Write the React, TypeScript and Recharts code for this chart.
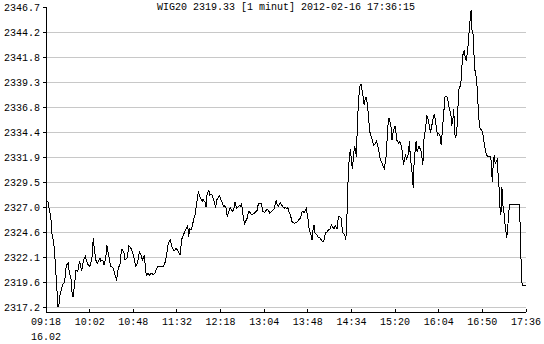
import React from 'react';
import { LineChart, Line, XAxis, YAxis, ReferenceLine } from 'recharts';

const TITLE = 'WIG20 2319.33 [1 minut] 2012-02-16 17:36:15';
const DATE_LABEL = '16.02';

const xTickLabels = ['09:18', '10:02', '10:48', '11:32', '12:18', '13:04', '13:48', '14:34', '15:20', '16:04', '16:50', '17:36'];
const yTickLabels = ['2317.2', '2319.6', '2322.1', '2324.6', '2327.0', '2329.5', '2331.9', '2334.4', '2336.8', '2339.3', '2341.8', '2344.2', '2346.7'];

// session length in minutes (09:18 -> 17:36)
const SESSION_MINUTES = 498;

// minutes after 09:18
const minutes = [
  0, 2, 3, 5, 6, 8, 9, 10, 11, 12,
  13, 14, 16, 17, 19, 20, 21, 23, 24, 26,
  27, 28, 30, 31, 33, 34, 35, 37, 38, 39,
  41, 42, 44, 45, 46, 48, 49, 50, 52, 53,
  55, 56, 57, 59, 60, 62, 63, 64, 66, 67,
  68, 70, 71, 73, 74, 75, 77, 78, 79, 81,
  82, 84, 85, 86, 88, 89, 91, 92, 93, 95,
  96, 97, 99, 100, 102, 103, 104, 106, 107, 109,
  110, 111, 113, 114, 116, 117, 119, 122, 124, 127,
  129, 131, 133, 135, 137, 139, 141, 143, 145, 147,
  148, 149, 151, 152, 154, 155, 156, 158, 160, 162,
  163, 165, 166, 167, 169, 170, 172, 173, 174, 176,
  177, 179, 180, 181, 183, 184, 185, 187, 188, 190,
  191, 192, 194, 195, 196, 198, 199, 201, 202, 203,
  205, 206, 208, 209, 210, 212, 213, 214, 216, 217,
  219, 220, 221, 223, 224, 225, 227, 228, 230, 231,
  232, 234, 235, 237, 238, 239, 240, 241, 243, 244,
  246, 247, 248, 250, 251, 252, 254, 255, 257, 258,
  259, 261, 262, 264, 265, 266, 268, 269, 270, 272,
  273, 275, 276, 277, 278, 279, 281, 282, 284, 285,
  286, 288, 289, 290, 292, 293, 295, 296, 297, 299,
  300, 302, 303, 304, 306, 307, 308, 310, 311, 312,
  313, 314, 315, 316, 317, 318, 319, 320, 321, 322,
  323, 324, 325, 326, 327, 328, 329, 330, 331, 332,
  333, 334, 335, 336, 338, 339, 340, 342, 343, 344,
  345, 346, 347, 349, 350, 351, 353, 354, 355, 356,
  357, 358, 359, 360, 362, 363, 364, 366, 367, 369,
  370, 371, 373, 374, 376, 377, 378, 380, 381, 382,
  384, 385, 387, 388, 389, 391, 392, 394, 395, 396,
  398, 399, 400, 402, 403, 405, 406, 407, 409, 410,
  411, 413, 414, 416, 417, 418, 420, 421, 422, 423,
  424, 425, 426, 427, 428, 430, 431, 432, 434, 435,
  436, 437, 438, 439, 440, 441, 442, 443, 444, 445,
  446, 447, 448, 449, 450, 452, 453, 454, 456, 457,
  459, 460, 461, 462, 463, 464, 465, 466, 468, 469,
  470, 471, 472, 473, 474, 475, 476, 477, 478, 479,
  480, 481, 485, 491, 492, 493, 494, 498,
];

const prices = [
  2327.4, 2327.6, 2327.0, 2326.1, 2324.5, 2323.5, 2322.5, 2320.8, 2319.6, 2317.6,
  2316.8, 2318.2, 2318.9, 2319.4, 2319.6, 2320.2, 2321.3, 2321.5, 2320.8, 2319.9,
  2318.7, 2318.2, 2319.7, 2320.8, 2320.7, 2321.3, 2321.7, 2320.7, 2321.3, 2321.8,
  2322.2, 2321.7, 2321.3, 2321.2, 2321.3, 2322.2, 2324.0, 2323.0, 2321.7, 2321.5,
  2321.8, 2322.0, 2321.7, 2321.8, 2321.3, 2322.0, 2323.3, 2322.8, 2321.8, 2321.2,
  2321.2, 2321.0, 2320.5, 2319.9, 2320.3, 2321.0, 2321.5, 2322.6, 2322.9, 2322.5,
  2321.8, 2322.0, 2322.5, 2323.2, 2323.0, 2322.8, 2322.2, 2321.7, 2321.2, 2321.5,
  2322.2, 2322.6, 2322.2, 2321.8, 2322.3, 2321.3, 2320.3, 2320.5, 2320.3, 2320.5,
  2320.5, 2320.4, 2320.5, 2320.8, 2321.2, 2321.2, 2321.2, 2321.2, 2321.7, 2323.5,
  2323.8, 2323.0, 2322.7, 2323.0, 2322.7, 2322.3, 2323.9, 2324.4, 2324.8, 2325.2,
  2324.1, 2324.9, 2324.8, 2325.3, 2326.1, 2326.4, 2327.2, 2328.5, 2328.0, 2327.6,
  2327.8, 2327.5, 2327.0, 2328.2, 2328.7, 2328.2, 2328.3, 2328.0, 2327.8, 2326.9,
  2327.7, 2328.0, 2328.1, 2327.9, 2327.4, 2327.1, 2327.2, 2326.9, 2326.1, 2326.7,
  2327.0, 2326.8, 2326.6, 2326.9, 2327.5, 2326.9, 2327.0, 2327.2, 2327.1, 2327.3,
  2325.8, 2325.4, 2325.8, 2326.0, 2326.6, 2326.5, 2326.3, 2326.3, 2326.4, 2326.5,
  2326.7, 2327.2, 2327.4, 2327.4, 2327.1, 2326.6, 2326.5, 2326.7, 2326.8, 2326.7,
  2326.4, 2326.6, 2326.7, 2326.9, 2327.4, 2327.7, 2327.2, 2327.1, 2327.5, 2327.3,
  2327.0, 2326.9, 2327.0, 2326.9, 2327.0, 2326.6, 2326.1, 2325.6, 2325.5, 2325.4,
  2325.5, 2325.6, 2325.8, 2325.9, 2326.4, 2326.6, 2326.5, 2326.7, 2326.9, 2325.8,
  2324.8, 2324.3, 2323.8, 2324.8, 2325.3, 2324.5, 2324.3, 2324.1, 2324.0, 2323.9,
  2323.7, 2323.6, 2324.1, 2324.5, 2324.6, 2324.8, 2324.9, 2325.3, 2325.1, 2324.9,
  2325.2, 2324.9, 2325.8, 2326.1, 2326.0, 2325.1, 2324.5, 2324.3, 2323.8, 2325.4,
  2328.7, 2331.0, 2332.3, 2332.7, 2331.3, 2330.8, 2332.0, 2333.0, 2332.7, 2332.0,
  2335.0, 2337.1, 2338.4, 2339.1, 2339.1, 2338.5, 2337.9, 2337.1, 2337.6, 2337.8,
  2337.4, 2336.6, 2335.4, 2334.4, 2333.8, 2333.4, 2333.1, 2333.3, 2333.6, 2333.0,
  2332.9, 2332.0, 2331.7, 2331.3, 2331.0, 2330.8, 2332.1, 2333.9, 2335.3, 2335.8,
  2335.4, 2334.9, 2333.6, 2334.3, 2335.0, 2334.4, 2333.6, 2333.3, 2333.5, 2333.0,
  2332.0, 2331.2, 2332.2, 2331.7, 2332.3, 2333.5, 2332.0, 2330.3, 2328.9, 2331.7,
  2333.5, 2332.5, 2333.0, 2332.8, 2332.6, 2331.2, 2333.6, 2334.9, 2336.1, 2335.8,
  2334.9, 2334.3, 2334.9, 2335.9, 2336.2, 2334.9, 2334.1, 2334.3, 2334.0, 2333.1,
  2334.3, 2336.7, 2337.9, 2337.9, 2337.5, 2336.9, 2336.2, 2335.2, 2335.4, 2336.7,
  2334.3, 2333.8, 2334.4, 2335.6, 2338.5, 2339.0, 2339.8, 2341.8, 2342.5, 2341.6,
  2341.5, 2342.1, 2343.0, 2344.3, 2345.4, 2346.4, 2344.4, 2344.1, 2342.1, 2340.5,
  2340.0, 2339.2, 2337.5, 2335.9, 2334.8, 2334.6, 2334.4, 2333.6, 2332.6, 2332.1,
  2332.0, 2332.0, 2332.0, 2331.5, 2329.5, 2331.3, 2332.1, 2331.3, 2331.7, 2330.3,
  2329.0, 2327.0, 2326.3, 2329.0, 2327.2, 2326.7, 2325.5, 2324.8, 2324.0, 2324.9,
  2326.4, 2327.3, 2327.3, 2327.3, 2325.1, 2321.3, 2319.33, 2319.33,
];

const data = minutes.map((m, i) => ({ m, p: prices[i] }));

const Y_LO = Number(yTickLabels[0]);
const Y_HI = Number(yTickLabels[yTickLabels.length - 1]);
const yTickValues = yTickLabels.map((_, i) => Y_LO + (i * (Y_HI - Y_LO)) / (yTickLabels.length - 1));
const xTickValues = xTickLabels.map((_, i) => (i * SESSION_MINUTES) / (xTickLabels.length - 1));

const FONT = '"Liberation Mono", "DejaVu Sans Mono", monospace';

const XTick = (props: any) => {
  const { x, y, index } = props;
  return (
    <g>
      <line x1={x} y1={y} x2={x} y2={y - 3} stroke="#000" strokeWidth={1} shapeRendering="crispEdges" />
      <text x={x} y={y + 13} textAnchor="middle" fontFamily={FONT} fontSize={10} fill="#000">
        {xTickLabels[index]}
      </text>
      {index === 0 && (
        <text x={x} y={y + 28} textAnchor="middle" fontFamily={FONT} fontSize={10} fill="#000">
          {DATE_LABEL}
        </text>
      )}
    </g>
  );
};

const YTick = (props: any) => {
  const { x, y, index } = props;
  return (
    <g>
      <line x1={x - 3} y1={y} x2={x} y2={y} stroke="#000" strokeWidth={1} shapeRendering="crispEdges" />
      <text x={x - 6} y={y + 3.5} textAnchor="end" fontFamily={FONT} fontSize={10} fill="#000">
        {yTickLabels[index]}
      </text>
    </g>
  );
};

export default function App() {
  return (
    <div style={{ position: 'absolute', left: 0, top: 0, width: 544, height: 344, background: '#fff' }}>
      <LineChart width={544} height={344} data={data} margin={{ top: 7, right: 18, bottom: 0, left: 0 }}>
        {yTickValues.slice(0, -1).map((v) => (
          <ReferenceLine key={v} y={v} stroke="#c8c8c8" strokeWidth={1} shapeRendering="crispEdges" />
        ))}
        <XAxis
          dataKey="m"
          type="number"
          domain={[0, SESSION_MINUTES]}
          ticks={xTickValues}
          interval={0}
          height={32}
          tickSize={0}
          tickMargin={0}
          tickLine={false}
          axisLine={{ stroke: '#000', strokeWidth: 1, shapeRendering: 'crispEdges' }}
          tick={<XTick />}
        />
        <YAxis
          type="number"
          domain={[Y_LO, Y_HI]}
          allowDataOverflow
          padding={{ top: 0, bottom: 5 }}
          ticks={yTickValues}
          interval={0}
          width={46}
          tickSize={0}
          tickMargin={0}
          tickLine={false}
          axisLine={{ stroke: '#000', strokeWidth: 1, shapeRendering: 'crispEdges' }}
          tick={<YTick />}
        />
        <Line
          type="linear"
          dataKey="p"
          stroke="#000"
          strokeWidth={1}
          dot={false}
          isAnimationActive={false}
          shapeRendering="crispEdges"
        />
      </LineChart>
      <div
        style={{
          position: 'absolute',
          left: 46,
          width: 480,
          top: 2,
          textAlign: 'center',
          fontFamily: FONT,
          fontSize: 10,
          lineHeight: '12px',
          color: '#000',
          whiteSpace: 'nowrap',
        }}
      >
        {TITLE}
      </div>
    </div>
  );
}
